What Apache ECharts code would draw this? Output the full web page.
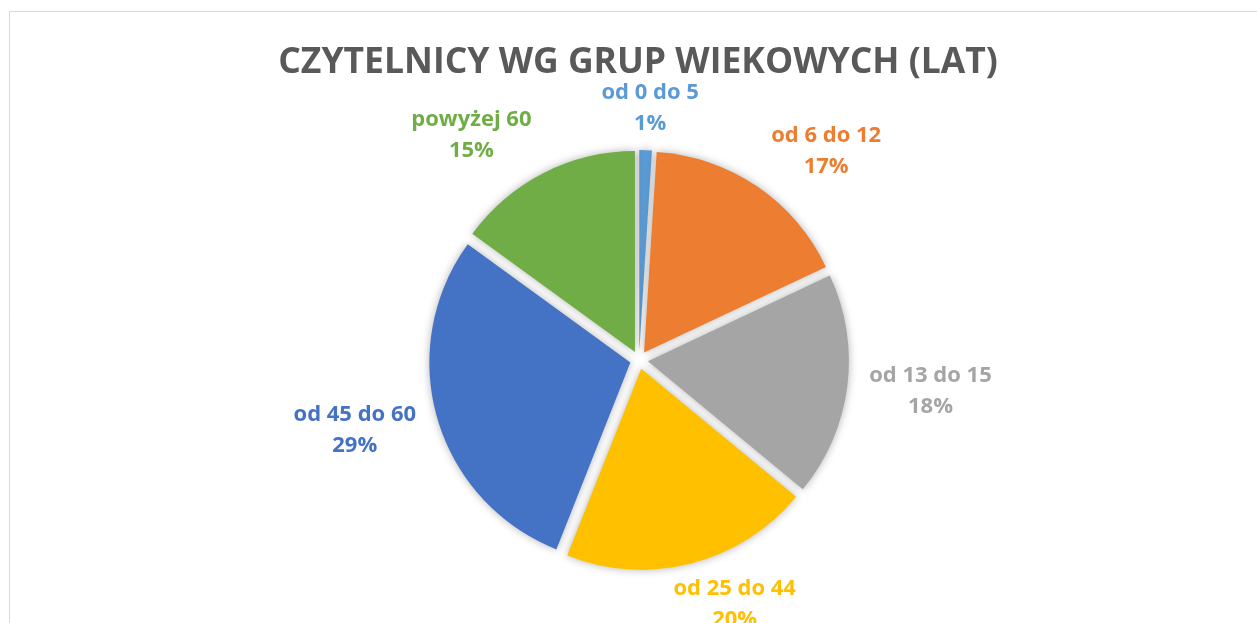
<!DOCTYPE html>
<html>
<head>
<meta charset="utf-8">
<script src="https://cdn.jsdelivr.net/npm/echarts@6/dist/echarts.min.js"></script>
<style>
  html, body { margin: 0; padding: 0; background: #fff; }
  #myChart { width: 1257px; height: 623px; }
</style>
</head>
<body>
<div id="myChart"></div>
<script>
  // dane wykresu
  const categories = ['od 0 do 5', 'od 6 do 12', 'od 13 do 15', 'od 25 do 44', 'od 45 do 60', 'powyżej 60'];
  const values = [1, 17, 18, 20, 29, 15];
  const colors = ['#5B9BD5', '#ED7D31', '#A5A5A5', '#FFC000', '#4472C4', '#70AD47'];
  const titleText = 'CZYTELNICY WG GRUP WIEKOWYCH (LAT)';

  const CX = 639, CY = 360, R = 201, OFFSET = 9;
  const total = values.reduce((a, b) => a + b, 0);

  function clamp(v) { return Math.max(-1, Math.min(1, v)); }

  let myChart = echarts.init(document.getElementById('myChart'));
  let options = {
    animation: false,
    graphic: [{
      type: 'rect',
      shape: { x: 9.5, y: 11.5, width: 1400, height: 800 },
      style: { fill: null, stroke: '#d9d9d9', lineWidth: 1 },
      silent: true
    }],
    title: {
      text: titleText,
      left: 633,
      top: 40,
      textAlign: 'center',
      textStyle: {
        fontFamily: 'Open Sans',
        fontWeight: 'bold',
        fontSize: 35.5,
        color: '#595959'
      }
    },
    series: [{
      type: 'pie',
      center: [CX, CY],
      radius: R,
      startAngle: 90,
      clockwise: true,
      avoidLabelOverlap: false,
      selectedMode: 'multiple',
      selectedOffset: OFFSET,
      emphasis: { disabled: true },
      itemStyle: {
        shadowBlur: 8,
        shadowColor: 'rgba(0,0,0,0.3)'
      },
      label: {
        show: true,
        position: 'outside',
        fontFamily: 'Open Sans',
        fontWeight: 'bold',
        fontSize: 22,
        lineHeight: 31,
        formatter: p => '{c|' + p.name + '}\n{c|' + Math.round(p.percent) + '%}',
        rich: {
          c: {
            align: 'center',
            fontFamily: 'Open Sans',
            fontWeight: 'bold',
            fontSize: 22,
            lineHeight: 31
          }
        }
      },
      labelLine: { show: false },
      // etykiety jak w Excelu: na zewnątrz, odsunięte od krawędzi wycinka
      // (etykieta przesuwa się razem z wysuniętym wycinkiem, stąd - OFFSET)
      labelLayout: function (params) {
        let i = params.dataIndex;
        let before = 0;
        for (let k = 0; k < i; k++) before += values[k];
        let mid = (before + values[i] / 2) / total * Math.PI * 2;
        let ux = Math.sin(mid), uy = -Math.cos(mid);
        let r = params.labelRect;
        let D = 228 - OFFSET;
        let cx = CX + ux * D + clamp(2.4 * ux) * (r.width / 2 + 4);
        let cy = CY + uy * (D + 24);
        return {
          dx: cx - (r.x + r.width / 2),
          dy: cy - (r.y + r.height / 2)
        };
      },
      data: categories.map((c, i) => ({
        name: c,
        value: values[i],
        selected: true,
        itemStyle: { color: colors[i] },
        label: { color: colors[i] }
      }))
    }]
  };
  myChart.setOption(options);
</script>
</body>
</html>
